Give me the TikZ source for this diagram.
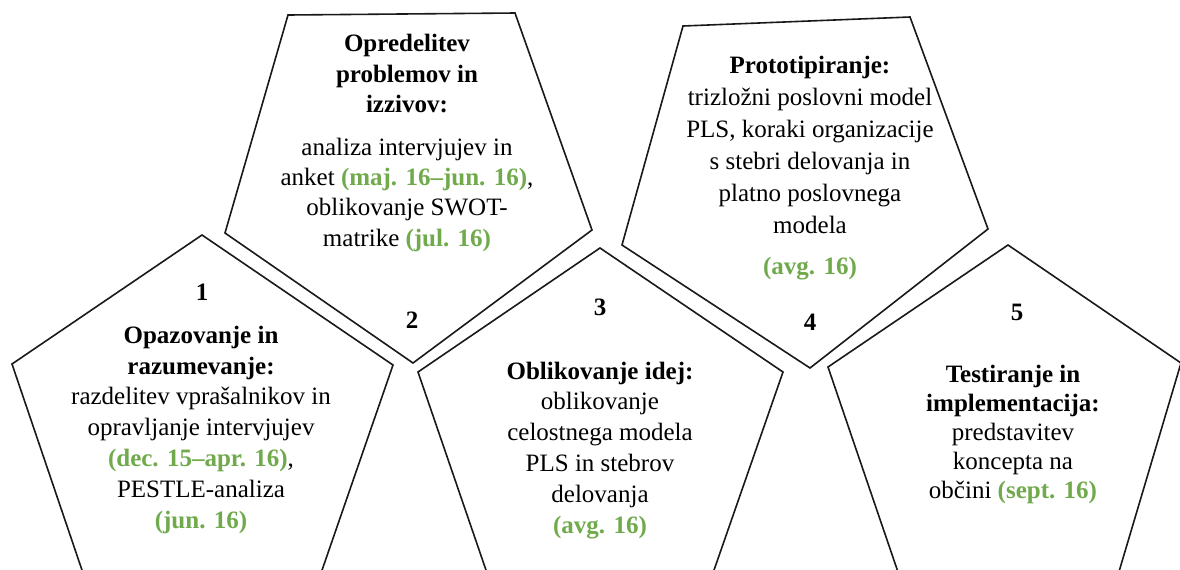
\documentclass[tikz,border=0pt]{standalone}
\usepackage{fontspec}
\setmainfont{Liberation Serif}
\definecolor{dategreen}{RGB}{112,170,76}
\newcommand{\dt}[1]{\textcolor{dategreen}{\textbf{#1}}}
\tikzset{
  penta/.style={draw=black!90, line width=0.8pt, line join=miter},
  txt/.style={align=center, anchor=base, inner sep=0pt, font=\fontsize{12.5}{15.4}\selectfont},
  num/.style={anchor=base, inner sep=0pt, font=\fontsize{12.5}{15}\selectfont\bfseries}
}
\begin{document}
\begin{tikzpicture}[x=0.5pt,y=-0.5pt]
\clip (0,0) rectangle (1180,569);
\fill[white] (0,0) rectangle (1180,569);
% pentagons
\draw[penta] (202,235) -- (393,365) -- (320,576) -- (84,576) -- (12,364) -- cycle;
\draw[penta] (288,15) -- (515,13) -- (592,230) -- (413,363) -- (225,233) -- cycle;
\draw[penta] (600,248) -- (783,372) -- (713,573) -- (487,573) -- (418,372) -- cycle;
\draw[penta] (683,26) -- (910,17) -- (988,229) -- (810,368) -- (622,245) -- cycle;
\draw[penta] (1008,245) -- (1181,363) -- (1118,575) -- (899,575) -- (828,367) -- cycle;
% numbers
\node[num] (n1) at (202,300) {1};
\node[num] (n2) at (412,328) {2};
\node[num] (n3) at (600,315) {3};
\node[num] (n4) at (810,330) {4};
\node[num] (n5) at (1017,320) {5};
% texts (anchor base = baseline of last line)
\node[txt] (t1) at (201,528) {\textbf{Opazovanje in}\\ \textbf{razumevanje:}\\ razdelitev vprašalnikov in\\ opravljanje intervjujev\\ \dt{(dec. 15–apr. 16)},\\ PESTLE-analiza\\ \dt{(jun. 16)}};
\node[txt, font=\fontsize{12.5}{15.1}\selectfont] (t2) at (407,246) {\textbf{Opredelitev}\\ \textbf{problemov in}\\ \textbf{izzivov:}\\[6.5pt] analiza intervjujev in\\ anket \dt{(maj. 16–jun. 16)},\\ oblikovanje SWOT-\\ matrike \dt{(jul. 16)}};
\node[txt] (t3) at (600,533) {\textbf{Oblikovanje idej:}\\ oblikovanje\\ celostnega modela\\ PLS in stebrov\\ delovanja\\ \dt{(avg. 16)}};
\node[txt, font=\fontsize{12.5}{16}\selectfont] (t4) at (810,274) {\textbf{Prototipiranje:}\\ trizložni poslovni model\\ PLS, koraki organizacije\\ s stebri delovanja in\\ platno poslovnega\\ modela\\[4.5pt] \dt{(avg. 16)}};
\node[txt, font=\fontsize{12.5}{14.4}\selectfont] (t5) at (1013,498) {\textbf{Testiranje in}\\ \textbf{implementacija:}\\ predstavitev\\ koncepta na\\ občini \dt{(sept. 16)}};
\end{tikzpicture}
\end{document}
